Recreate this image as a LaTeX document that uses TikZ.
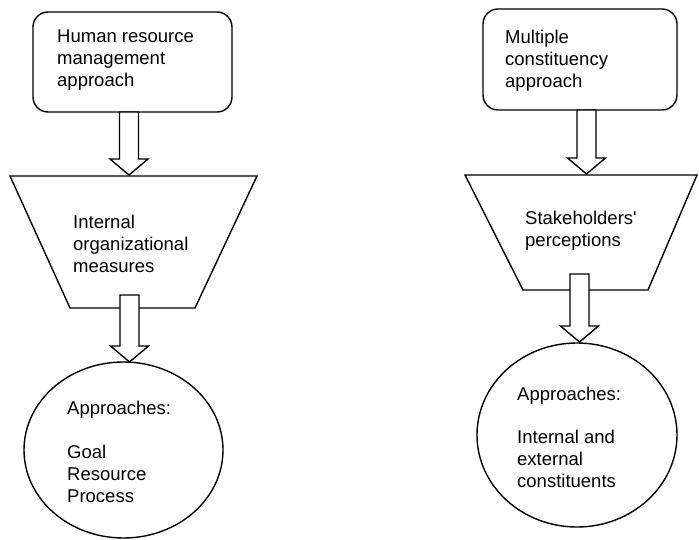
\documentclass[tikz,border=0pt]{standalone}
\usepackage{fontspec}
\setmainfont{Liberation Sans}
\usetikzlibrary{shapes.geometric,calc}
\tikzset{
  shp/.style={draw=black, line width=1.4pt},
  rbox/.style={shp, rounded corners=15pt, inner sep=0pt},
  oval/.style={shp, ellipse, inner sep=0pt},
  txt/.style={anchor=north west, inner sep=0pt, align=left, font=\fontsize{18.5}{22}\selectfont},
  blk/.style={draw=black, fill=white, line width=1.4pt, line join=miter},
}
\newcommand\myblockarrow[2]{%
  \draw[blk] let \p1=(#1), \p2=(#2) in
    (\x1-9.5pt,\y1) -- (\x1-9.5pt,\y2+16pt) -- (\x1-19pt,\y2+16pt) -- (\x2,\y2)
    -- (\x1+19pt,\y2+16pt) -- (\x1+9.5pt,\y2+16pt) -- (\x1+9.5pt,\y1) -- cycle;}
\begin{document}
\begin{tikzpicture}[x=1pt,y=-1pt]
\useasboundingbox (0,0) rectangle (699,540);
% ---------- left column ----------
\node[rbox, minimum width=199pt, minimum height=100pt] (b1) at (132.5,62) {};
\node[txt] (b1t) at (57,29.5) {Human resource\\management\\approach};
\coordinate (t1a) at (10,176);
\coordinate (t1b) at (257,176);
\coordinate (t1c) at (195,308);
\coordinate (t1d) at (70,308);
\draw[shp, line join=miter] (t1a) -- (t1b) -- (t1c) -- (t1d) -- cycle;
\node[txt] (t1t) at (73,214.5) {Internal\\organizational\\measures};
\node[oval, minimum width=199pt, minimum height=176pt] (e1) at (123.5,450) {};
\node[txt] (e1t) at (67,400.5) {Approaches:\\[22pt]Goal\\Resource\\Process};
\coordinate (a1s) at (129,112);
\coordinate (a1e) at (129,175);
\coordinate (a2s) at (129.5,295);
\coordinate (a2e) at (129.5,362);
\myblockarrow{a1s}{a1e}
\myblockarrow{a2s}{a2e}
% ---------- right column ----------
\node[rbox, minimum width=194pt, minimum height=101pt] (b2) at (580,59.5) {};
\node[txt] (b2t) at (505,29.5) {Multiple\\constituency\\approach};
\coordinate (t2a) at (465,175);
\coordinate (t2b) at (697,175);
\coordinate (t2c) at (648,290);
\coordinate (t2d) at (523,290);
\draw[shp, line join=miter] (t2a) -- (t2b) -- (t2c) -- (t2d) -- cycle;
\node[txt] (t2t) at (525,210.5) {Stakeholders\textquotesingle\\perceptions};
\node[oval, minimum width=200pt, minimum height=184pt] (e2) at (577,435) {};
\node[txt] (e2t) at (517,386.5) {Approaches:\\[21pt]Internal and\\external\\constituents};
\coordinate (a3s) at (586.5,110);
\coordinate (a3e) at (586.5,174);
\coordinate (a4s) at (579.5,274);
\coordinate (a4e) at (579.5,342);
\myblockarrow{a3s}{a3e}
\myblockarrow{a4s}{a4e}
\end{tikzpicture}
\end{document}
